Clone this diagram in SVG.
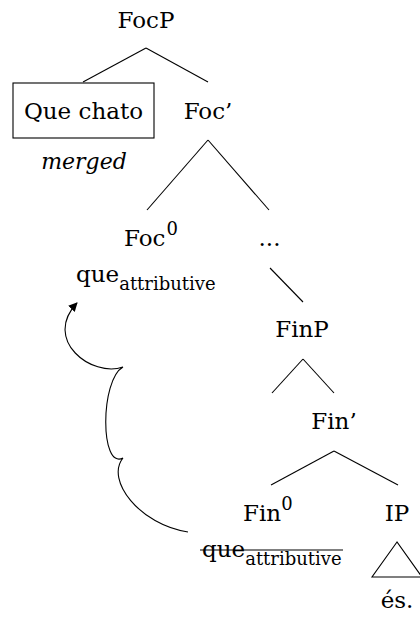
<svg xmlns="http://www.w3.org/2000/svg" width="420" height="618" viewBox="0 0 420 618">
<defs>
<style>
.t{font-family:'DejaVu Serif',serif;font-size:23px;fill:#000}
.m{text-anchor:middle}
.s{font-size:18px}
.i{font-style:italic;font-size:22px}
.ln{stroke:#000;stroke-width:1.1;fill:none}
</style>
<marker id="ah" viewBox="0 0 10 10" refX="9" refY="5" markerWidth="9" markerHeight="9" markerUnits="userSpaceOnUse" orient="auto">
<path d="M0,0 L10,5 L0,10 z" fill="#000"/>
</marker>
</defs>
<rect width="420" height="618" fill="#fff"/>
<g id="connectors" class="ln">
<line x1="146" y1="48" x2="83" y2="82"/>
<line x1="146" y1="48" x2="208" y2="82"/>
<line x1="208" y1="140" x2="147" y2="210"/>
<line x1="208" y1="140" x2="269" y2="210"/>
<line x1="270" y1="268" x2="303" y2="302"/>
<line x1="303" y1="359" x2="272" y2="393"/>
<line x1="303" y1="359" x2="334" y2="393"/>
<line x1="334" y1="451" x2="271" y2="485"/>
<line x1="334" y1="451" x2="398" y2="485"/>
<path d="M188,532 C140,525 105,480 123,458 C100,470 100,380 123,367 C92,378 42,340 77,303" marker-end="url(#ah)"/>
</g>
<g id="n-focp" class="t"><text class="m" x="146" y="28">FocP</text></g>
<g id="n-quechato" class="t">
<rect class="ln" x="13" y="83" width="141" height="55"/>
<text class="m" x="83.5" y="119">Que chato</text>
<text class="m i" x="84" y="169">merged</text>
</g>
<g id="n-focbar" class="t"><text class="m" x="208" y="119">Foc’</text></g>
<g id="n-foc0" class="t">
<text x="124" y="246">Foc<tspan class="s" dx="1" dy="-11">0</tspan></text>
<text x="76" y="282">que<tspan class="s" dy="8">attributive</tspan></text>
</g>
<g id="n-dots" class="t"><text class="m" x="269.5" y="246">...</text></g>
<g id="n-finp" class="t"><text class="m" x="302" y="337">FinP</text></g>
<g id="n-finbar" class="t"><text class="m" x="334" y="429">Fin’</text></g>
<g id="n-fin0" class="t">
<text x="243" y="521">Fin<tspan class="s" dy="-11">0</tspan></text>
<text x="202" y="557">que<tspan class="s" dy="8">attributive</tspan></text>
<line class="ln" x1="200" y1="550" x2="343" y2="550"/>
</g>
<g id="n-ip" class="t">
<text class="m" x="397" y="521">IP</text>
<polygon class="ln" points="397,542 372,577 422,577"/>
<text class="m" x="397" y="608">és.</text>
</g>
</svg>
